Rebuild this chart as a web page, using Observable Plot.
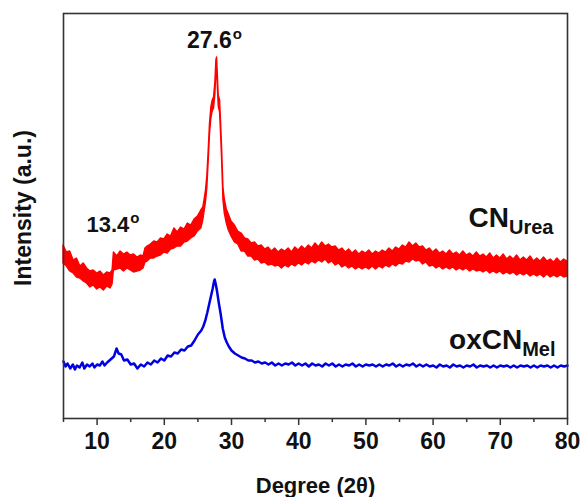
<!DOCTYPE html>
<html>
<head>
<meta charset="utf-8">
<script src="https://cdn.jsdelivr.net/npm/d3@7"></script>
<script src="https://cdn.jsdelivr.net/npm/@observablehq/plot@0.6"></script>
<style>
  html, body { margin: 0; padding: 0; background: #fff; }
</style>
</head>
<body>
<div id="chart"></div>
<script>
// CN_Urea XRD pattern: [2θ (deg), upper edge of noisy band, lower edge of noisy band] (a.u.)
const cnUrea = [
  [5.0,173,155],[5.5,166,152],[6.0,167,147],[6.5,158,145],[7.0,160,141],[7.5,152,140],
  [8.0,155,137],[8.5,150,135],[9.0,147,131],[9.5,148,133],[10.0,145,129],[10.5,147,131],
  [11.0,143,128],[11.5,146,132],[12.0,145,130],[12.3,148,134],[12.5,166,148],[13.0,162,149],
  [13.5,167,150],[14.0,164,147],[14.5,166,150],[15.0,163,148],[15.5,164,146],[16.0,161,147],
  [16.5,163,148],[16.9,162,150],[17.2,170,156],[17.5,172,157],[18.0,174,160],[18.5,177,160],
  [19.0,176,162],[19.5,180,163],[20.0,179,166],[20.5,184,165],[21.0,182,169],[21.5,190,170],
  [22.0,186,172],[22.5,191,172],[23.0,189,176],[23.5,195,177],[24.0,193,180],[24.5,199,182],
  [25.0,202,187],[25.5,208,190],[25.8,211,198],[26.0,219,207],[26.2,228,216],[26.4,242,230],
  [26.6,267,256],[26.8,295,284],[27.0,311,300],[27.2,318,307],[27.4,321,310],[27.6,336,324],
  [27.75,358,346],[27.85,361,350],[27.95,346,334],[28.1,323,312],[28.3,318,306],[28.45,296,284],
  [28.6,271,259],[28.8,231,218],[29.0,219,205],[29.3,209,195],[29.6,204,188],[30.0,197,182],
  [30.5,193,176],[31.0,187,174],[31.5,185,167],[32.0,180,167],[32.5,179,162],[33.0,175,162],
  [33.5,176,158],[34.0,172,159],[34.5,173,155],[35.0,169,156],[35.5,171,153],[36.0,167,154],
  [36.5,170,152],[37.0,166,153],[37.5,169,150],[38.0,167,153],[38.5,170,151],[39.0,166,154],
  [39.5,171,152],[40.0,168,155],[40.5,172,153],[41.0,169,156],[41.5,173,154],[42.0,170,157],
  [42.5,175,155],[43.0,171,158],[43.5,176,156],[44.0,172,159],[44.5,174,155],[45.0,171,157],
  [45.5,172,153],[46.0,168,155],[46.5,170,151],[47.0,166,153],[47.5,169,150],[48.0,165,152],
  [48.5,168,149],[49.0,164,151],[49.5,167,149],[50.0,165,151],[50.5,168,149],[51.0,164,152],
  [51.5,167,149],[52.0,165,152],[52.5,168,150],[53.0,166,153],[53.5,170,151],[54.0,167,154],
  [54.5,171,152],[55.0,169,155],[55.5,173,154],[56.0,171,157],[56.5,176,156],[57.0,172,159],
  [57.5,175,157],[58.0,171,158],[58.5,172,154],[59.0,168,156],[59.5,170,152],[60.0,166,153],
  [60.5,169,150],[61.0,165,152],[61.5,167,149],[62.0,164,151],[62.5,168,149],[63.0,164,151],
  [63.5,166,148],[64.0,163,150],[64.5,167,148],[65.0,163,150],[65.5,165,147],[66.0,162,149],
  [66.5,166,147],[67.0,162,148],[67.5,164,146],[68.0,161,148],[68.5,165,145],[69.0,160,147],
  [69.5,163,145],[70.0,160,147],[70.5,164,144],[71.0,159,146],[71.5,162,144],[72.0,159,146],
  [72.5,163,143],[73.0,158,145],[73.5,161,143],[74.0,158,145],[74.5,162,142],[75.0,157,144],
  [75.5,160,142],[76.0,157,144],[76.5,161,141],[77.0,157,144],[77.5,159,141],[78.0,156,143],
  [78.5,160,141],[79.0,156,143],[79.5,159,141],[80.0,157,142]
];

// oxCN_Mel XRD pattern: [2θ (deg), intensity (a.u.)]
const oxCNMel = [
  [5.0,57],[5.3,52],[5.6,55],[6.0,50],[6.4,54],[6.7,49],[7.0,53],[7.4,51],[7.8,56],[8.1,50],
  [8.5,54],[8.9,52],[9.3,55],[9.6,51],[10.0,54],[10.4,53],[10.8,57],[11.1,53],[11.5,56],
  [12.0,59],[12.5,62],[12.9,70],[13.2,65],[13.6,64],[14.0,58],[14.5,59],[15.0,54],[15.5,55],
  [16.0,50],[16.5,54],[17.0,52],[17.5,56],[18.0,54],[18.5,58],[19.0,56],[19.5,60],[20.0,58],
  [20.5,63],[21.0,62],[21.5,66],[22.0,65],[22.5,69],[23.0,68],[23.5,72],[24.0,73],[24.5,78],
  [25.0,84],[25.5,88],[25.8,92],[26.1,98],[26.4,106],[26.7,115],[27.0,124],[27.2,130],
  [27.4,137],[27.5,139],[27.7,133],[27.9,125],[28.1,116],[28.4,104],[28.7,90],[29.0,81],
  [29.3,76],[29.6,72],[30.0,68],[30.5,65],[31.0,63],[31.5,61],[32.0,60],[32.5,58],[33.0,58],
  [33.5,56],[34.0,57],[34.5,55],[35.0,56],[35.5,54],[36.0,56],[36.5,53],[37.0,55],[37.5,53],
  [38.0,55],[38.5,54],[39.0,56],[39.5,53],[40.0,55],[40.5,53],[41.0,55],[41.5,52],[42.0,55],
  [42.5,53],[43.0,54],[43.5,52],[44.0,55],[44.5,53],[45.0,55],[45.5,52],[46.0,54],[46.5,52],
  [47.0,54],[47.5,53],[48.0,55],[48.5,52],[49.0,54],[49.5,52],[50.0,54],[50.5,53],[51.0,54],
  [51.5,52],[52.0,54],[52.5,52],[53.0,54],[53.5,53],[54.0,55],[54.5,52],[55.0,54],[55.5,52],
  [56.0,54],[56.5,53],[57.0,55],[57.5,52],[58.0,54],[58.5,52],[59.0,54],[59.5,52],[60.0,53],
  [60.5,51],[61.0,54],[61.5,52],[62.0,53],[62.5,51],[63.0,54],[63.5,52],[64.0,53],[64.5,51],
  [65.0,53],[65.5,52],[66.0,54],[66.5,51],[67.0,53],[67.5,52],[68.0,53],[68.5,51],[69.0,53],
  [69.5,51],[70.0,53],[70.5,52],[71.0,53],[71.5,51],[72.0,53],[72.5,51],[73.0,53],[73.5,52],
  [74.0,53],[74.5,51],[75.0,53],[75.5,51],[76.0,53],[76.5,52],[77.0,53],[77.5,51],[78.0,53],
  [78.5,51],[79.0,53],[79.5,52],[80.0,53]
];

const majorTicks = [10, 20, 30, 40, 50, 60, 70, 80];
const minorTicks = [5, 15, 25, 35, 45, 55, 65, 75];
const peakLabels = ["27.6^o", "13.4^o"];
const peakDegs = [27.6, 13.4];
const seriesLabels = ["CN_Urea", "oxCN_Mel"];
const xTitle = "Degree (2θ)";
const yTitle = "Intensity (a.u.)";

const FONT = "'Liberation Sans', Arial, Helvetica, sans-serif";
const RED = "#ff0000";
const BLUE = "#0000e0";
const AXIS = "#333333";

const redRows = cnUrea.map(([deg, hi, lo]) => ({deg, hi, lo}));
const blueRows = oxCNMel.map(([deg, v]) => ({deg, v}));
const nearRed = (deg) => redRows.reduce((a, b) => Math.abs(b.deg - deg) < Math.abs(a.deg - deg) ? b : a);
const redPeak = d3.max(redRows, d => d.hi);
const redEnd = redRows[redRows.length - 1].hi;
const blueEnd = blueRows[blueRows.length - 1].v;

const svg = Plot.plot({
  width: 582,
  height: 497,
  marginLeft: 63,
  marginRight: 15,
  marginTop: 13,
  marginBottom: 79,
  style: {fontFamily: FONT, fontWeight: "bold", background: "white", color: "#111", fontSize: "23px"},
  x: {domain: [5, 80]},
  y: {domain: [0, 405], axis: null},
  marks: [
    Plot.areaY(redRows, {x: "deg", y1: "lo", y2: "hi", fill: RED, stroke: RED, strokeWidth: 1.4}),
    Plot.lineY(blueRows, {x: "deg", y: "v", stroke: BLUE, strokeWidth: 2.5}),
    Plot.frame({stroke: AXIS, strokeWidth: 1.6}),
    Plot.axisX({ticks: minorTicks, tickSize: 4, tickFormat: () => "", label: null, stroke: AXIS, strokeWidth: 1.5}),
    Plot.axisX({ticks: majorTicks, tickSize: 7, tickPadding: 7, tickFormat: d => String(d), label: null,
      fontSize: 23, fontWeight: "bold", stroke: AXIS, strokeWidth: 1.5, fill: "#111"}),
    // axis titles
    Plot.text([xTitle], {frameAnchor: "bottom", text: d => d, lineAnchor: "bottom", textAnchor: "middle", dy: 74, fontSize: 22, fontWeight: "bold", fill: "#111"}),
    Plot.text([yTitle], {frameAnchor: "left", text: d => d, rotate: -90, textAnchor: "middle", lineAnchor: "middle", dx: -40, dy: -8, fontSize: 23, fontWeight: "bold", fill: "#111"}),
    // peak labels
    Plot.text([0], {x: peakDegs[0], y: redPeak, text: () => peakLabels[0], lineAnchor: "bottom", textAnchor: "middle", dx: -1, dy: -10, fontSize: 23, fontWeight: "bold", fill: "#111"}),
    Plot.text([0], {x: peakDegs[1], y: nearRed(peakDegs[1]).hi, text: () => peakLabels[1], lineAnchor: "bottom", textAnchor: "middle", dx: -7, dy: -20, fontSize: 22, fontWeight: "bold", fill: "#111"}),
    // series labels
    Plot.text([0], {x: 80, y: redEnd, text: () => seriesLabels[0], lineAnchor: "bottom", textAnchor: "end", dx: -14, dy: -35, fontSize: 28, fontWeight: "bold", fill: "#111"}),
    Plot.text([0], {x: 80, y: blueEnd, text: () => seriesLabels[1], lineAnchor: "bottom", textAnchor: "end", dx: -12, dy: -17, fontSize: 28, fontWeight: "bold", fill: "#111"})
  ]
});

// turn ^ into superscripts and _ into subscripts
d3.select(svg).selectAll("text").each(function () {
  const t = this.textContent;
  let m;
  if ((m = t.match(/^(.*)\^(.*)$/))) {
    this.textContent = m[1];
    d3.select(this).append("tspan").attr("font-size", 15).attr("dy", -9).attr("dx", 1).text(m[2]);
  } else if ((m = t.match(/^(.*)_(.*)$/))) {
    this.textContent = m[1];
    d3.select(this).append("tspan").attr("font-size", 20).attr("dy", 7).text(m[2]);
  }
});

document.getElementById("chart").appendChild(svg);
</script>
</body>
</html>
